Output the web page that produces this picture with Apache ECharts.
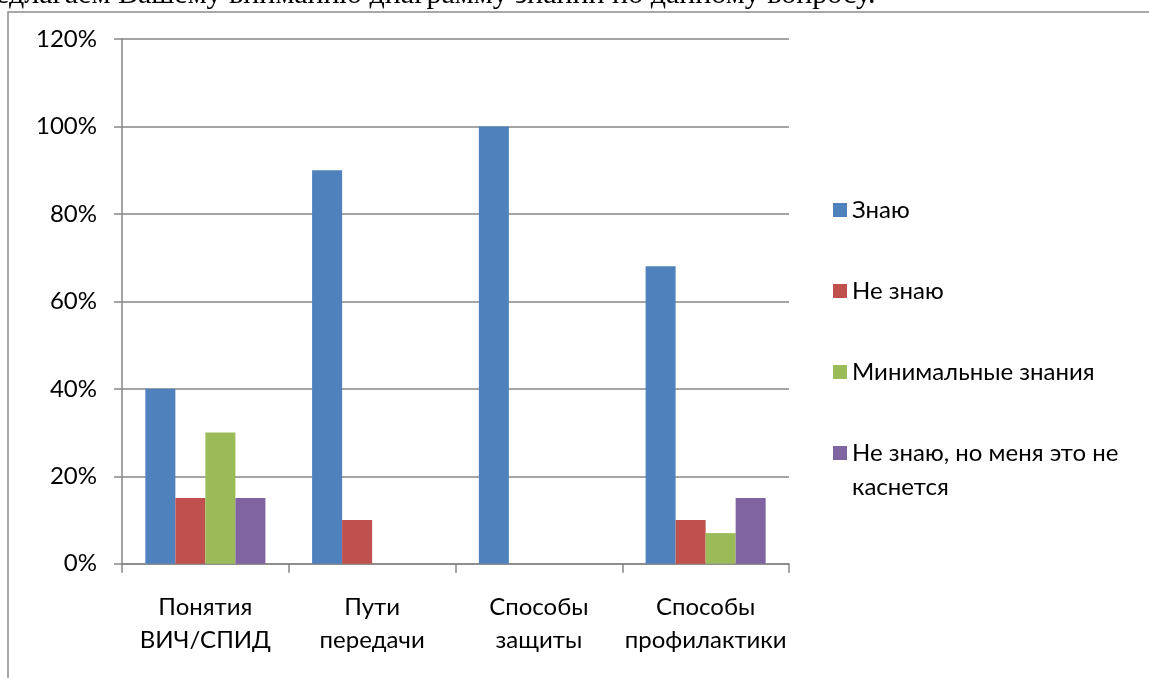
<!DOCTYPE html>
<html>
<head>
<meta charset="utf-8">
<script src="https://cdn.jsdelivr.net/npm/echarts@6/dist/echarts.min.js"></script>
<style>
html,body{margin:0;padding:0;background:#fff;}
#chart{width:1149px;height:678px;}
</style>
</head>
<body>
<div id="chart"></div>
<script>
const categories = ['Понятия ВИЧ/СПИД', 'Пути передачи', 'Способы защиты', 'Способы профилактики'];
const seriesNames = ['Знаю', 'Не знаю', 'Минимальные знания', 'Не знаю, но меня это не каснется'];
const knowValues = [40, 90, 100, 68];
const dontKnowValues = [15, 10, 0, 10];
const minimalValues = [30, 0, 0, 7];
const notConcernedValues = [15, 0, 0, 15];
const yTicks = [0, 20, 40, 60, 80, 100, 120];
const colors = ['#4F81BD', '#C0504D', '#9BBB59', '#8064A2'];
const headerText = 'едлагаем Вашему вниманию диаграмму знаний по данному вопросу.';

const seriesValues = [knowValues, dontKnowValues, minimalValues, notConcernedValues];
const font = 'Lato';
const axisGray = '#868686';

const chart = echarts.init(document.getElementById('chart'), null, {renderer: 'canvas'});
chart.setOption({
  animation: false,
  color: colors,
  graphic: [
    {
      type: 'rect',
      shape: {x: 8, y: 12, width: 1200, height: 700},
      style: {fill: 'none', stroke: '#8c8c8c', lineWidth: 1.5},
      silent: true, z: -1
    },
    {
      type: 'text',
      x: -4, y: -5,
      style: {
        text: headerText,
        font: '30px "Liberation Serif"',
        fill: '#000',
        verticalAlign: 'middle'
      },
      silent: true
    }
  ],
  grid: {left: 122, right: 360, top: 39, bottom: 114.3, containLabel: false},
  legend: {
    orient: 'vertical',
    left: 833,
    top: 159,
    padding: 0,
    itemWidth: 14,
    itemHeight: 14,
    itemGap: -21,
    icon: 'rect',
    textStyle: {fontFamily: font, fontSize: 24, color: '#000', lineHeight: 34},
    formatter: function (name) {
      return name === seriesNames[3] ? '\nНе знаю, но меня это не\nкаснется' : name;
    },
    data: seriesNames.map(function (n, i) {
      return {
        name: n,
        textStyle: {padding: i === 3 ? [0, 0, 0, 0] : [34, 0, 34, 0]}
      };
    })
  },
  xAxis: {
    type: 'category',
    data: categories,
    axisLine: {lineStyle: {color: axisGray, width: 1.5}},
    axisTick: {show: true, alignWithLabel: false, length: 9, lineStyle: {color: axisGray, width: 1.5}},
    axisLabel: {
      fontFamily: font, fontSize: 24, color: '#000', lineHeight: 33, margin: 27,
      interval: 0,
      formatter: function (v) { return v.replace(' ', '\n'); }
    },
    splitLine: {show: false}
  },
  yAxis: {
    type: 'value',
    min: 0, max: 120, interval: 20,
    axisLine: {show: true, lineStyle: {color: axisGray, width: 1.5}},
    axisTick: {show: true, length: 8, lineStyle: {color: axisGray, width: 1.5}},
    axisLabel: {
      fontFamily: font, fontSize: 24, color: '#000', margin: 25,
      formatter: function (v) { return yTicks.indexOf(v) >= 0 ? v + '%' : ''; }
    },
    splitLine: {show: true, lineStyle: {color: axisGray, width: 1.5}}
  },
  series: seriesNames.map(function (n, i) {
    return {
      name: n,
      type: 'bar',
      data: seriesValues[i],
      barGap: '0%',
      barCategoryGap: '28%',
      itemStyle: {color: colors[i]}
    };
  })
});
</script>
</body>
</html>
